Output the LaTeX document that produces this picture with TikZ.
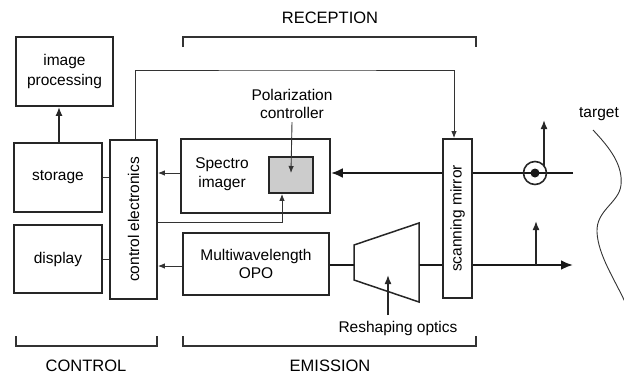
\documentclass[tikz,border=0pt]{standalone}
\usepackage{fontspec}
\setmainfont{Liberation Sans}
\usetikzlibrary{arrows.meta,calc}
\begin{document}
\begin{tikzpicture}[x=1pt,y=-1pt,
  box/.style={draw=black!85,line width=1.8pt,inner sep=0pt,font=\fontsize{15.5}{18.5}\selectfont,align=center},
  lbl/.style={font=\fontsize{15.5}{18.5}\selectfont,align=center,inner sep=0pt},
  big/.style={font=\fontsize{16.5}{19}\selectfont,inner sep=0pt},
  thin/.style={draw=black!80,line width=0.9pt},
  thinarr/.style={thin,-{Latex[length=7pt,width=5.5pt]}},
  midarr/.style={draw=black!85,line width=1.6pt,-{Latex[length=9pt,width=7pt]}},
  beam/.style={draw=black!90,line width=2.8pt},
  beamarr/.style={beam,-{Latex[length=12pt,width=10pt]}},
  brk/.style={draw=black!80,line width=1.3pt}]
\useasboundingbox (0,0) rectangle (624,375);

% boxes
\node[box,minimum width=97pt,minimum height=69pt] (imgproc) at (64.5,71.5) {image\\[2pt]processing};
\node[box,minimum width=88pt,minimum height=69pt] (storage) at (58,177.5) {storage};
\node[box,minimum width=88pt,minimum height=68pt] (display) at (58,259) {display};
\node[box,minimum width=47pt,minimum height=159pt] (ctrl) at (133.5,219.5) {};
\node[lbl,rotate=90] (ctrltext) at (ctrl.center) {control electronics};
\node[box,minimum width=149pt,minimum height=74pt] (spectro) at (255.5,176) {};
\node[lbl] (spectrotext) at (222,174) {Spectro\\imager};
\node[box,fill=black!20,minimum width=44pt,minimum height=36pt] (polgrey) at (291,175) {};
\node[box,minimum width=146pt,minimum height=62pt] (opo) at (256,264) {Multiwavelength\\OPO};
\node[box,minimum width=29pt,minimum height=159pt] (mirror) at (457.5,218.5) {};
\node[lbl,rotate=90] (mirrortext) at (mirror.center) {scanning mirror};

% texts
\node[lbl] (poltext) at (292,104) {Polarization\\controller};
\node[lbl] (reshtext) at (398,328) {Reshaping optics};
\node[lbl] (targettext) at (599,114) {target};
\node[big] (rec) at (330,18) {RECEPTION};
\node[big] (con) at (86,366) {CONTROL};
\node[big] (emi) at (330,366) {EMISSION};

% brackets
\draw[brk] (183,47) -- (183,37) -- (476,37) -- (476,47);
\draw[brk] (16,336) -- (16,346) -- (157,346) -- (157,336);
\draw[brk] (183,336) -- (183,346) -- (476,346) -- (476,336);

% control connectors
\draw[midarr] ([xshift=1pt]storage.north) -- ([xshift=1pt]storage.north |- imgproc.south);
\draw[thin] (storage.east) -- (storage.east -| ctrl.west);
\draw[thin] (display.east) -- (display.east -| ctrl.west);
\coordinate (sy) at (181,173);
\draw[thinarr] (spectro.west |- sy) -- (ctrl.east |- sy);
\draw[thinarr] (opo.west |- 0,266) -- (ctrl.east |- 0,266);
\coordinate (cg) at (282,222);
\draw[thinarr] (ctrl.east |- cg) -| ([xshift=-9pt]polgrey.south);
\coordinate (topc) at (300,70);
\draw[thinarr] ([xshift=1.5pt]ctrl.north) |- (topc) -| ([xshift=-3.5pt]mirror.north);
\draw[thinarr] ([yshift=-3pt]poltext.south) -- ([yshift=2pt]polgrey.center);

% reception beam
\coordinate (rend) at (573,173);
\draw[beam] (rend) -- (mirror.east |- rend);
\draw[beamarr] (mirror.west |- rend) -- (spectro.east |- rend);
\node[draw=black!85,line width=1.6pt,circle,minimum size=23pt,inner sep=0pt] (pcirc) at (535,173) {};
\fill[black!90] (pcirc.center) circle (4.5pt);
\draw[midarr] (544,166) -- (544,120);

% emission beam
\coordinate (tl1) at (354,245);
\coordinate (tl2) at (354,280);
\coordinate (tr1) at (419,223);
\coordinate (tr2) at (419,302);
\draw[draw=black!85,line width=1.5pt,line join=miter] (tl1) -- (tr1) -- (tr2) -- (tl2) -- cycle;
\coordinate (ey) at (0,265);
\draw[beam] (opo.east |- ey) -- (tl1 |- ey);
\draw[beam] (tr1 |- ey) -- (mirror.west |- ey);
\draw[beamarr] (mirror.east |- ey) -- (573,265);
\draw[midarr] (536,265) -- (536,221);
\draw[midarr] (388,315) -- (388,275);

% target
\draw[thin] (593,130) .. controls (610,148) and (623,165) .. (621,185)
  .. controls (619,203) and (596,210) .. (597,232)
  .. controls (598,255) and (615,280) .. (625,302);
\end{tikzpicture}
\end{document}
